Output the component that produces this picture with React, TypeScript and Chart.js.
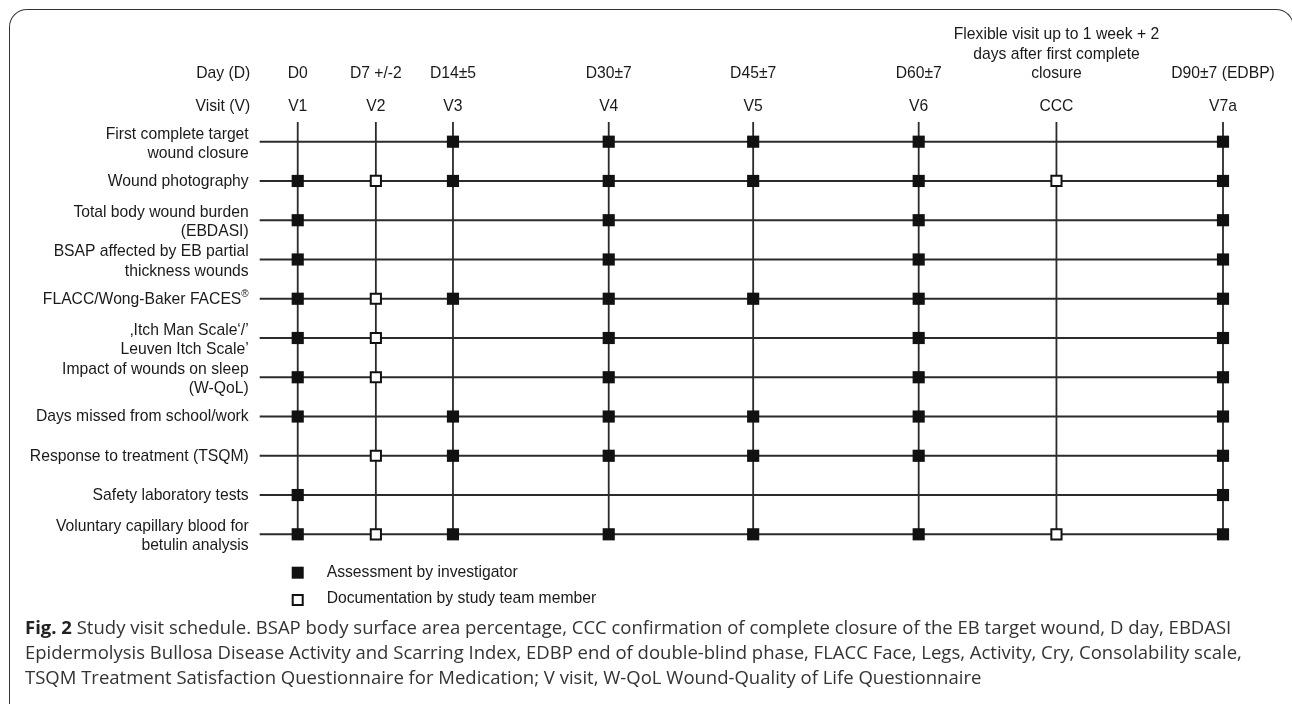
import React, { useEffect, useRef } from "react";
import { Chart, registerables } from "chart.js";

Chart.register(...registerables);

// ---------- DATA ----------
const visitLabels = ["V1", "V2", "V3", "V4", "V5", "V6", "CCC", "V7a"];
const dayLabels: string[][] = [
  ["D0"],
  ["D7 +/-2"],
  ["D14±5"],
  ["D30±7"],
  ["D45±7"],
  ["D60±7"],
  ["Flexible visit up to 1 week + 2", "days after first complete", "closure"],
  ["D90±7 (EDBP)"],
];
// approximate study-day position of each visit column
const visitPosition = [0, 7.6, 15.1, 30.25, 44.3, 60.4, 73.8, 90];

const assessmentLabels: string[][] = [
  ["First complete target", "wound closure"],
  ["Wound photography"],
  ["Total body wound burden", "(EBDASI)"],
  ["BSAP affected by EB partial", "thickness wounds"],
  ["FLACC/Wong-Baker FACES®"],
  ["‚Itch Man Scale‘/’", "Leuven Itch Scale’"],
  ["Impact of wounds on sleep", "(W-QoL)"],
  ["Days missed from school/work"],
  ["Response to treatment (TSQM)"],
  ["Safety laboratory tests"],
  ["Voluntary capillary blood for", "betulin analysis"],
];
// F = assessment by investigator, H = documentation by study team member
// columns: V1 V2 V3 V4 V5 V6 CCC V7a
const schedule = [
  "..FFFF.F",
  "FHFFFFHF",
  "F..F.F.F",
  "F..F.F.F",
  "FHFFFF.F",
  "FH.F.F.F",
  "FH.F.F.F",
  "F.FFFF.F",
  ".HFFFF.F",
  "F......F",
  "FHFFFFHF",
];
const legendLabels = ["Assessment by investigator", "Documentation by study team member"];
const headerLabels = ["Day (D)", "Visit (V)"];
const captionBold = "Fig. 2";
const captionLines = [
  " Study visit schedule. BSAP body surface area percentage, CCC confirmation of complete closure of the EB target wound, D day, EBDASI",
  "Epidermolysis Bullosa Disease Activity and Scarring Index, EDBP end of double-blind phase, FLACC Face, Legs, Activity, Cry, Consolability scale,",
  "TSQM Treatment Satisfaction Questionnaire for Medication; V visit, W-QoL Wound-Quality of Life Questionnaire",
];

// ---------- STYLE ----------
const INK = "#1a1a1a";
const LINE = "#2b2b2b";
const FONT = "15.7px 'Liberation Sans', Arial, Helvetica, sans-serif";
const ROW_LINE_START = -3.7;

export default function App() {
  const ref = useRef<HTMLCanvasElement | null>(null);

  useEffect(() => {
    if (!ref.current) return;
    const filled: { x: number; y: number }[] = [];
    const hollow: { x: number; y: number }[] = [];
    schedule.forEach((row, r) => {
      row.split("").forEach((c, ci) => {
        if (c === "F") filled.push({ x: visitPosition[ci], y: r });
        if (c === "H") hollow.push({ x: visitPosition[ci], y: r });
      });
    });
    const lastX = visitPosition[visitPosition.length - 1];
    const lastRow = assessmentLabels.length - 1;

    const rowLines = assessmentLabels.map((_, r) => ({
      type: "scatter" as const,
      data: [
        { x: ROW_LINE_START, y: r },
        { x: lastX, y: r },
      ],
      showLine: true,
      borderColor: LINE,
      borderWidth: 2,
      pointRadius: 0,
      clip: false as any,
      order: 2,
    }));
    const colLines = visitPosition.map((p) => ({
      type: "scatter" as const,
      data: [
        { x: p, y: -0.5 },
        { x: p, y: lastRow },
      ],
      showLine: true,
      borderColor: LINE,
      borderWidth: 1.8,
      pointRadius: 0,
      clip: false as any,
      order: 2,
    }));

    const textPlugin = {
      id: "schedText",
      afterDraw(chart: any) {
        const ctx = chart.ctx as CanvasRenderingContext2D;
        const xs = chart.scales.x;
        const ys = chart.scales.y;
        const labelRight = xs.getPixelForValue(ROW_LINE_START) - 11;
        ctx.save();
        ctx.fillStyle = INK;
        ctx.font = FONT;
        ctx.textBaseline = "middle";

        const dayY = ys.getPixelForValue(-1.72);
        const visitY = ys.getPixelForValue(-0.88);
        ctx.textAlign = "right";
        ctx.fillText(headerLabels[0], labelRight + 1.5, dayY);
        ctx.fillText(headerLabels[1], labelRight + 1.5, visitY);

        ctx.textAlign = "center";
        visitPosition.forEach((p, i) => {
          const px = xs.getPixelForValue(p);
          ctx.fillText(visitLabels[i], px, visitY);
          const lines = dayLabels[i];
          lines.forEach((t, li) => {
            ctx.fillText(t, px, dayY - (lines.length - 1 - li) * 19.85);
          });
        });

        // row labels
        ctx.textAlign = "right";
        assessmentLabels.forEach((lines, r) => {
          const cy = ys.getPixelForValue(r) + (lines.length > 1 ? 2.2 : 0.5);
          lines.forEach((t, li) => {
            const y = cy + (li - (lines.length - 1) / 2) * 19.3;
            if (t.endsWith("®")) {
              const main = t.slice(0, -1);
              ctx.font = "10px 'Liberation Sans', Arial, sans-serif";
              const w = ctx.measureText("®").width;
              ctx.textAlign = "left";
              ctx.fillText("®", labelRight - w, y - 5);
              ctx.font = FONT;
              ctx.textAlign = "right";
              ctx.fillText(main, labelRight - w, y);
            } else {
              ctx.fillText(t, labelRight, y);
            }
          });
        });

        // legend
        const lx = xs.getPixelForValue(visitPosition[0]);
        const lastPx = ys.getPixelForValue(lastRow);
        const ly = [lastPx + 38.4, lastPx + 65.7];
        ctx.fillStyle = "#111";
        ctx.fillRect(lx - 6, ly[0] - 6, 12, 12);
        ctx.fillStyle = "#fff";
        ctx.strokeStyle = "#111";
        ctx.lineWidth = 2;
        ctx.fillRect(lx - 5, ly[1] - 5, 10, 10);
        ctx.strokeRect(lx - 5, ly[1] - 5, 10, 10);
        ctx.fillStyle = INK;
        ctx.textAlign = "left";
        ctx.fillText(legendLabels[0], lx + 29, ly[0] - 0.5);
        ctx.fillText(legendLabels[1], lx + 29, ly[1] - 1);
        ctx.restore();
      },
    };

    const chart = new Chart(ref.current, {
      type: "scatter",
      data: {
        datasets: [
          {
            label: legendLabels[0],
            data: filled,
            pointStyle: "rect",
            pointRadius: 8.6,
            pointBackgroundColor: "#111",
            pointBorderWidth: 0,
            order: 0,
            clip: false as any,
          },
          {
            label: legendLabels[1],
            data: hollow,
            pointStyle: "rect",
            pointRadius: 7.2,
            pointBackgroundColor: "#fff",
            pointBorderColor: "#111",
            pointBorderWidth: 2,
            order: 0,
            clip: false as any,
          },
          ...rowLines,
          ...colLines,
        ] as any,
      },
      options: {
        responsive: false,
        animation: false,
        devicePixelRatio: 1,
        layout: { padding: { left: 256.6, right: 69, top: 122.07, bottom: 169.7 } },
        scales: {
          x: { type: "linear", min: -4, max: 90, display: false },
          y: { type: "linear", min: -0.5, max: 10, reverse: true, display: false },
        },
        plugins: { legend: { display: false }, tooltip: { enabled: false } },
        events: [],
      },
      plugins: [textPlugin],
    });
    return () => chart.destroy();
  }, []);

  return (
    <div style={{ position: "fixed", left: 0, top: 0, width: 1292, height: 704, background: "#fff", overflow: "hidden" }}>
      <div
        style={{
          position: "absolute",
          left: 9,
          top: 9,
          width: 1285,
          height: 720,
          boxSizing: "border-box",
          borderTop: "1.6px solid #333",
          borderLeft: "1.6px solid #333",
          borderRight: "1.6px solid #333",
          borderTopLeftRadius: 18,
          borderTopRightRadius: 18,
        }}
      />
      <canvas ref={ref} width={1292} height={704} style={{ position: "absolute", left: 0, top: 0, width: 1292, height: 704 }} />
      <div
        style={{
          position: "absolute",
          left: 25,
          top: 614,
          fontFamily: "'Open Sans', 'Noto Sans', sans-serif",
          fontSize: 18.5,
          lineHeight: "25px",
          color: "#333",
          whiteSpace: "nowrap",
        }}
      >
        <b style={{ color: "#222" }}>{captionBold}</b>
        {captionLines[0]}
        <br />
        {captionLines[1]}
        <br />
        {captionLines[2]}
      </div>
    </div>
  );
}
